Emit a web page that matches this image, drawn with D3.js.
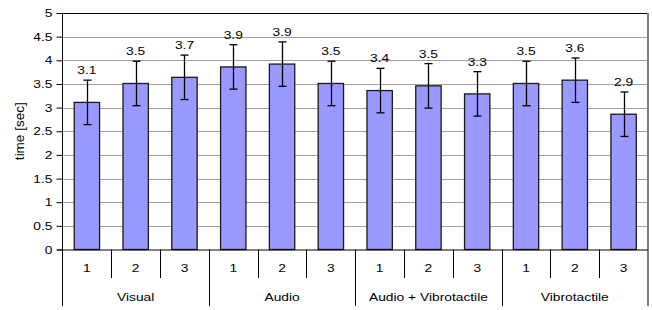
<!DOCTYPE html>
<html>
<head>
<meta charset="utf-8">
<script src="https://cdn.jsdelivr.net/npm/d3@7"></script>
<style>
  body { margin: 0; background: #fff; }
  text { font-family: Arial, "Liberation Sans", sans-serif; fill: #000; }
</style>
</head>
<body>
<div id="graph-container"></div>
<script>
const groups = ['Visual', 'Audio', 'Audio + Vibrotactile', 'Vibrotactile'];
const levels = ['1', '2', '3'];
const means = [3.11, 3.51, 3.64, 3.86, 3.92, 3.51, 3.36, 3.46, 3.29, 3.51, 3.58, 2.86];
const errors = [0.47, 0.47, 0.47, 0.47, 0.47, 0.47, 0.47, 0.47, 0.47, 0.47, 0.47, 0.47];
const valueLabels = ['3.1', '3.5', '3.7', '3.9', '3.9', '3.5', '3.4', '3.5', '3.3', '3.5', '3.6', '2.9'];
const yTicks = [0, 0.5, 1, 1.5, 2, 2.5, 3, 3.5, 4, 4.5, 5];

const w = 652;
const h = 310;
const plotLeft = 62.5;
const plotRight = 648;
const plotTop = 13;
const plotBottom = 249.5;
const stretch = 1.2;
const fontSize = '11.5px';

const data = means.map((m, i) => ({
  key: i,
  group: groups[Math.floor(i / levels.length)],
  level: levels[i % levels.length],
  mean: m,
  err: errors[i],
  label: valueLabels[i]
}));

const x = d3.scaleBand()
  .domain(data.map(d => d.key))
  .range([plotLeft, plotRight])
  .paddingInner(0.48)
  .paddingOuter(0.24);

const y = d3.scaleLinear()
  .domain([0, 5])
  .range([plotBottom, plotTop]);

const svg = d3.select('#graph-container')
  .append('svg')
  .attr('width', w)
  .attr('height', h);

// the source picture is a bit wider than tall, so text is stretched sideways
function place(sel, fx, fy) {
  sel.attr('transform', (d, i) => `translate(${fx(d, i)},${fy(d, i)}) scale(${stretch},1)`)
    .style('font-size', fontSize);
}

// gridlines
svg.append('g')
  .selectAll('line')
  .data(yTicks.filter(t => t > 0 && t < 5))
  .enter().append('line')
  .attr('x1', plotLeft)
  .attr('x2', plotRight)
  .attr('y1', d => Math.round(y(d)) + 0.5)
  .attr('y2', d => Math.round(y(d)) + 0.5)
  .attr('stroke', '#a0a0a0')
  .attr('stroke-width', 1);

// frame: top black, right gray
svg.append('line')
  .attr('x1', plotLeft).attr('x2', plotRight)
  .attr('y1', plotTop + 0.5).attr('y2', plotTop + 0.5)
  .attr('stroke', '#000');
svg.append('line')
  .attr('x1', plotRight).attr('x2', plotRight)
  .attr('y1', plotTop).attr('y2', plotBottom)
  .attr('stroke', '#808080')
  .attr('stroke-width', 2);

// y axis
const yAxis = svg.append('g')
  .attr('transform', `translate(${plotLeft},0)`)
  .call(d3.axisLeft(y).tickValues(yTicks).tickSize(6).tickPadding(5).tickFormat(d3.format('')));
yAxis.select('.domain').remove();
yAxis.selectAll('.tick line').attr('stroke', '#000');
yAxis.selectAll('.tick text')
  .attr('x', null)
  .attr('font-size', null)
  .attr('font-family', null)
  .call(place, () => -10, () => 0);

svg.append('line')
  .attr('x1', plotLeft).attr('x2', plotLeft)
  .attr('y1', plotTop).attr('y2', 306)
  .attr('stroke', '#000');

svg.append('text')
  .attr('transform', `translate(19, ${(plotTop + plotBottom) / 2}) rotate(-90)`)
  .attr('text-anchor', 'middle')
  .attr('dy', '0.35em')
  .style('font-size', '13.5px')
  .text('time [sec]');

// bars
svg.append('g')
  .selectAll('rect')
  .data(data)
  .enter().append('rect')
  .attr('x', d => x(d.key))
  .attr('y', d => y(d.mean))
  .attr('width', x.bandwidth())
  .attr('height', d => y(0) - y(d.mean))
  .attr('fill', '#9999ff')
  .attr('stroke', '#1a1a1a')
  .attr('stroke-width', 1.3);

// error bars
const eb = svg.append('g')
  .selectAll('g')
  .data(data)
  .enter().append('g')
  .attr('stroke', '#000')
  .attr('stroke-width', 1.3);
const cx = d => Math.round(x(d.key) + x.bandwidth() / 2) + 0.5;
eb.append('line')
  .attr('x1', cx).attr('x2', cx)
  .attr('y1', d => y(d.mean + d.err))
  .attr('y2', d => y(d.mean - d.err));
eb.append('line')
  .attr('x1', d => cx(d) - 4).attr('x2', d => cx(d) + 4)
  .attr('y1', d => y(d.mean + d.err))
  .attr('y2', d => y(d.mean + d.err));
eb.append('line')
  .attr('x1', d => cx(d) - 4).attr('x2', d => cx(d) + 4)
  .attr('y1', d => y(d.mean - d.err))
  .attr('y2', d => y(d.mean - d.err));

// value labels
svg.append('g')
  .selectAll('text')
  .data(data)
  .enter().append('text')
  .attr('text-anchor', 'middle')
  .call(place, d => x(d.key) + x.bandwidth() / 2, d => y(d.mean + d.err) - 6)
  .text(d => d.label);

// x axis line
svg.append('line')
  .attr('x1', plotLeft - 5).attr('x2', plotRight)
  .attr('y1', plotBottom + 0.5).attr('y2', plotBottom + 0.5)
  .attr('stroke', '#000');

// category dividers and labels
const step = x.step();
const xStart = d => x(d.key) - x.paddingInner() * step / 2;
svg.append('g')
  .selectAll('line')
  .data(data.filter((d, i) => i > 0))
  .enter().append('line')
  .attr('x1', d => Math.round(xStart(d)) + 0.5)
  .attr('x2', d => Math.round(xStart(d)) + 0.5)
  .attr('y1', plotBottom)
  .attr('y2', (d, i) => ((i + 1) % levels.length === 0 ? 306 : 278))
  .attr('stroke', '#000');
svg.append('line')
  .attr('x1', plotRight).attr('x2', plotRight)
  .attr('y1', plotBottom).attr('y2', 306)
  .attr('stroke', '#000');

svg.append('g')
  .selectAll('text')
  .data(data)
  .enter().append('text')
  .attr('dy', '0.35em')
  .attr('text-anchor', 'middle')
  .call(place, d => x(d.key) + x.bandwidth() / 2, () => 268)
  .text(d => d.level);

svg.append('g')
  .selectAll('text')
  .data(groups)
  .enter().append('text')
  .attr('dy', '0.35em')
  .attr('text-anchor', 'middle')
  .call(place, (g, i) => {
    const a = x(i * levels.length);
    const b = x((i + 1) * levels.length - 1) + x.bandwidth();
    return (a + b) / 2;
  }, () => 297)
  .text(g => g);
</script>
</body>
</html>
